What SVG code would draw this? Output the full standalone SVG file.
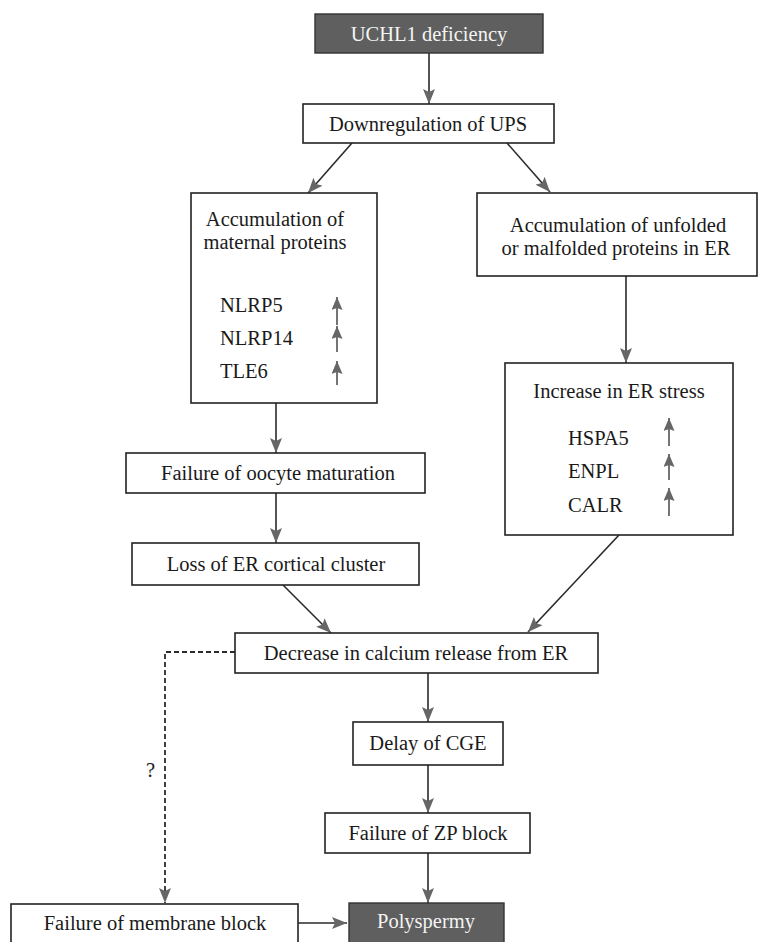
<svg xmlns="http://www.w3.org/2000/svg" width="758" height="942" viewBox="0 0 758 942">
<style>
.box{fill:#fff;stroke:#222;stroke-width:1.6}
.dark{fill:#5f5f5f;stroke:#333;stroke-width:1.4}
text{font-family:"Liberation Serif","DejaVu Serif",serif;font-size:20.5px;fill:#1a1a1a}
.t{text-anchor:middle}
.w{fill:#f4f4f4}
.c{fill:none;stroke:#2a2a2a;stroke-width:1.6}
.d{fill:none;stroke:#2a2a2a;stroke-width:1.8;stroke-dasharray:5 3}
.up{fill:none;stroke:#2a2a2a;stroke-width:1.3}
</style>
<defs>
<marker id="ah" viewBox="0 0 15 12" refX="15" refY="6" markerWidth="15" markerHeight="12" markerUnits="userSpaceOnUse" orient="auto">
<path d="M0,0 L15,6 L0,12 L3,6 Z" fill="#666"/>
</marker>
<marker id="uh" viewBox="0 0 13 11" refX="13" refY="5.5" markerWidth="13" markerHeight="11" markerUnits="userSpaceOnUse" orient="auto">
<path d="M0,0 L13,5.5 L0,11 L2,5.5 Z" fill="#666"/>
</marker>
</defs>

<g id="connectors">
<line class="c" x1="429" y1="53" x2="429" y2="104" marker-end="url(#ah)"/>
<line class="c" x1="352" y1="143" x2="308" y2="193" marker-end="url(#ah)"/>
<line class="c" x1="507" y1="143" x2="550" y2="192" marker-end="url(#ah)"/>
<line class="c" x1="626" y1="276" x2="626" y2="363" marker-end="url(#ah)"/>
<line class="c" x1="276" y1="403" x2="276" y2="453" marker-end="url(#ah)"/>
<line class="c" x1="276" y1="493" x2="276" y2="543" marker-end="url(#ah)"/>
<line class="c" x1="283" y1="585" x2="331" y2="633" marker-end="url(#ah)"/>
<line class="c" x1="619" y1="535" x2="528" y2="632" marker-end="url(#ah)"/>
<line class="c" x1="428" y1="673" x2="428" y2="722" marker-end="url(#ah)"/>
<line class="c" x1="428" y1="765" x2="428" y2="813" marker-end="url(#ah)"/>
<line class="c" x1="428" y1="853" x2="428" y2="903" marker-end="url(#ah)"/>
<line class="c" x1="298" y1="923" x2="347" y2="923" marker-end="url(#ah)"/>
<polyline class="d" points="235,652 165,652 165,903" marker-end="url(#ah)"/>
</g>

<g id="n-uchl1">
<rect class="dark" x="315" y="14" width="228" height="39"/>
<text class="t w" x="429" y="41">UCHL1 deficiency</text>
</g>

<g id="n-ups">
<rect class="box" x="303" y="104" width="251" height="39"/>
<text class="t" x="428" y="131">Downregulation of UPS</text>
</g>

<g id="n-maternal">
<rect class="box" x="191" y="193" width="186" height="210"/>
<text class="t" x="275" y="226">Accumulation of</text>
<text class="t" x="275" y="249">maternal proteins</text>
<text x="220" y="312">NLRP5</text>
<text x="220" y="345">NLRP14</text>
<text x="220" y="378">TLE6</text>
<line class="up" x1="337" y1="325" x2="337" y2="297" marker-end="url(#uh)"/>
<line class="up" x1="337" y1="352" x2="337" y2="326" marker-end="url(#uh)"/>
<line class="up" x1="337" y1="385" x2="337" y2="361" marker-end="url(#uh)"/>
</g>

<g id="n-unfolded">
<rect class="box" x="477" y="193" width="280" height="83"/>
<text class="t" x="618" y="232">Accumulation of unfolded</text>
<text class="t" x="616" y="255">or malfolded proteins in ER</text>
</g>

<g id="n-erstress">
<rect class="box" x="505" y="363" width="228" height="172"/>
<text class="t" x="619" y="398">Increase in ER stress</text>
<text x="568" y="445">HSPA5</text>
<text x="568" y="478">ENPL</text>
<text x="568" y="512">CALR</text>
<line class="up" x1="669" y1="446" x2="669" y2="418" marker-end="url(#uh)"/>
<line class="up" x1="669" y1="480" x2="669" y2="454" marker-end="url(#uh)"/>
<line class="up" x1="669" y1="516" x2="669" y2="488" marker-end="url(#uh)"/>
</g>

<g id="n-oocyte">
<rect class="box" x="126" y="453" width="299" height="40"/>
<text class="t" x="278" y="480">Failure of oocyte maturation</text>
</g>

<g id="n-cortical">
<rect class="box" x="132" y="543" width="287" height="42"/>
<text class="t" x="276" y="571">Loss of ER cortical cluster</text>
</g>

<g id="n-calcium">
<rect class="box" x="235" y="633" width="363" height="40"/>
<text class="t" x="416" y="660">Decrease in calcium release from ER</text>
</g>

<g id="n-cge">
<rect class="box" x="353" y="722" width="150" height="43"/>
<text class="t" x="428" y="750">Delay of CGE</text>
</g>

<g id="n-zp">
<rect class="box" x="325" y="813" width="205" height="40"/>
<text class="t" x="428" y="840">Failure of ZP block</text>
</g>

<g id="n-membrane">
<rect class="box" x="11" y="904" width="287" height="45"/>
<text class="t" x="155" y="930">Failure of membrane block</text>
</g>

<g id="n-polyspermy">
<rect class="dark" x="349" y="903" width="155" height="46"/>
<text class="t w" x="426" y="928">Polyspermy</text>
</g>

<text x="146" y="777">?</text>
</svg>
